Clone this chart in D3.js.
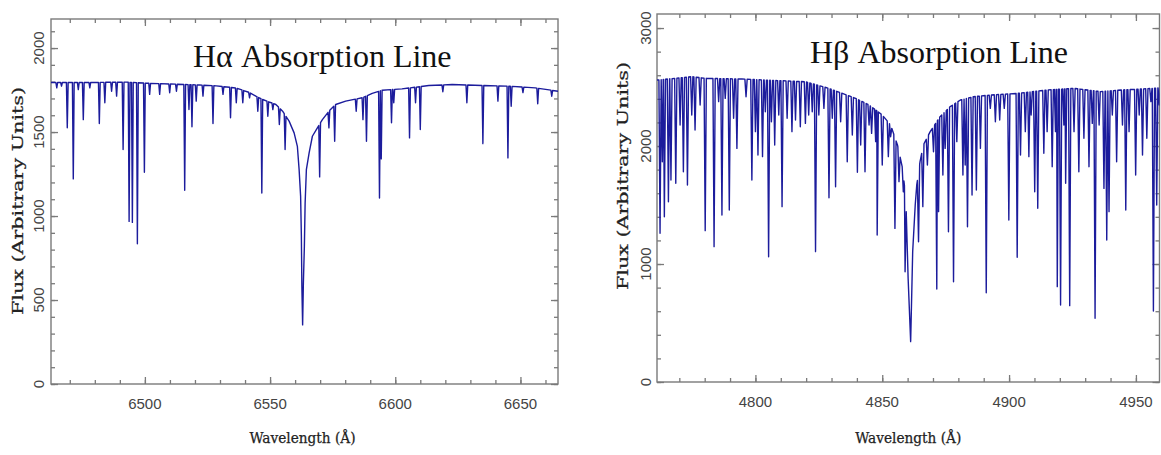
<!DOCTYPE html>
<html>
<head>
<meta charset="utf-8">
<script src="https://cdn.jsdelivr.net/npm/d3@7"></script>
<style>
  body { margin: 0; background: #fff; }
  .tick line { stroke: #7a7a7a; stroke-width: 1.3; }
  .frame { fill: none; stroke: #7a7a7a; stroke-width: 1.4; }
  .tlab { font-family: "Liberation Sans", sans-serif; font-size: 15px; fill: #444; }
  .atitle { font-family: "DejaVu Serif", serif; font-size: 14px; fill: #222; stroke: #222; stroke-width: 0.25; }
  .ptitle { font-family: "Liberation Serif", serif; font-size: 32px; fill: #111; }
  .spec { fill: none; stroke: #1c1c9c; stroke-width: 1.4; stroke-linejoin: round; }
</style>
</head>
<body>
<div id="chart"></div>
<script>
// H-alpha panel data (wavelength in A, flux)
const haTitle = "H\u03b1 Absorption Line";
const haXTicks = [6500, 6550, 6600, 6650];
const haYTicks = [0, 500, 1000, 1500, 2000];
const haContinuum = [
  [6462.5, 1795], [6475.4, 1795], [6492.6, 1797], [6501.9, 1790], [6512.6, 1785],
  [6521.9, 1780], [6528.5, 1775], [6536.5, 1762], [6541.8, 1735], [6544.3, 1714],
  [6547.0, 1694], [6552.3, 1664], [6555.0, 1624], [6557.6, 1565], [6559.6, 1495],
  [6560.9, 1415], [6561.6, 1276], [6562.2, 1117], [6562.5, 879], [6562.7, 580],
  [6563.0, 352], [6563.3, 600], [6563.7, 820], [6564.0, 1077], [6564.5, 1276],
  [6565.6, 1376], [6566.9, 1475], [6568.9, 1525], [6570.9, 1574], [6573.5, 1624],
  [6576.2, 1664], [6580.2, 1684], [6586.8, 1704], [6590.8, 1730], [6594.8, 1749],
  [6602.7, 1757], [6613.4, 1777], [6622.7, 1783], [6634.6, 1777], [6645.2, 1773],
  [6655.9, 1763], [6665.0, 1743]
];
const haLines = [
  [6464.8, 1763], [6466.7, 1773], [6469.0, 1525], [6471.4, 1221], [6473.4, 1753],
  [6475.4, 1574], [6478.0, 1763], [6481.8, 1551], [6484.0, 1674], [6486.7, 1743],
  [6488.7, 1714], [6491.3, 1396], [6493.7, 968], [6495.0, 962], [6497.0, 835],
  [6499.8, 1260], [6501.9, 1724], [6505.9, 1724], [6509.9, 1734], [6512.6, 1743],
  [6515.9, 1153], [6517.6, 1634], [6518.8, 1531], [6520.5, 1684], [6523.2, 1714],
  [6527.2, 1551], [6531.2, 1724], [6534.2, 1585], [6536.5, 1674], [6539.1, 1674],
  [6541.8, 1704], [6545.1, 1624], [6546.7, 1137], [6549.1, 1594], [6551.1, 1634],
  [6553.7, 1545], [6556.0, 1396],
  [6569.8, 1233], [6573.5, 1525], [6575.8, 1445], [6584.4, 1624], [6587.1, 1574],
  [6588.5, 1445], [6593.7, 1107], [6594.4, 1340], [6598.5, 1555], [6599.4, 1674],
  [6605.7, 1465], [6608.1, 1674], [6610.0, 1515], [6619.0, 1740], [6628.6, 1674],
  [6635.0, 1431], [6641.0, 1684], [6645.0, 1346], [6646.3, 1654], [6651.0, 1735],
  [6656.9, 1668], [6662.5, 1713]
];

// H-beta panel data
const hbTitle = "H\u03b2 Absorption Line";
const hbXTicks = [4800, 4850, 4900, 4950];
const hbYTicks = [0, 1000, 2000, 3000];
const hbContinuum = [
  [4761.2, 2559], [4774.9, 2588], [4780.2, 2574], [4794.7, 2568], [4803.9, 2559],
  [4819.7, 2545], [4828.9, 2489], [4839.5, 2404], [4844.8, 2348], [4850.0, 2263],
  [4853.3, 2178], [4856.0, 2009], [4858.0, 1811], [4859.3, 1557], [4860.2, 879],
  [4861.2, 342], [4862.0, 1105], [4863.0, 1500], [4863.6, 1670], [4864.9, 1867],
  [4866.2, 2009], [4868.9, 2122], [4872.8, 2249], [4876.8, 2334], [4880.8, 2390],
  [4886.0, 2418], [4892.6, 2432], [4903.2, 2446], [4915.0, 2475], [4925.6, 2489],
  [4936.1, 2461], [4944.0, 2475], [4952.0, 2483], [4960.5, 2494]
];
const hbLines = [
  [4762.4, 1260], [4763.3, 1867], [4764.1, 1401], [4765.7, 1528], [4766.7, 1712],
  [4768.6, 1684], [4770.3, 2178], [4771.6, 1782], [4773.2, 1670], [4774.9, 2263],
  [4776.2, 2136], [4778.2, 2348], [4780.2, 1283], [4783.7, 1147], [4785.5, 2376],
  [4786.8, 1415], [4788.1, 2404], [4789.7, 1458], [4791.4, 2235], [4792.7, 1980],
  [4796.3, 2418], [4798.6, 1712], [4800.0, 2122], [4801.0, 1924], [4802.8, 1910],
  [4803.9, 2291], [4805.2, 1062], [4806.3, 2206], [4807.6, 2009], [4809.2, 2263],
  [4810.5, 1486], [4812.5, 2235], [4814.4, 2122], [4815.8, 2220], [4817.7, 2164],
  [4819.7, 2192], [4821.0, 2263], [4822.4, 2291], [4823.7, 1105], [4825.0, 2263],
  [4827.0, 2319], [4829.0, 1562], [4830.3, 2235], [4831.6, 1655], [4833.6, 2206],
  [4836.2, 1867], [4838.2, 2093], [4840.2, 1777], [4841.5, 2009], [4843.2, 1782],
  [4844.8, 2178], [4845.8, 2107], [4847.4, 2037], [4848.0, 1246], [4850.0, 1839],
  [4852.4, 1910], [4853.3, 2079], [4855.0, 1302], [4856.6, 1698], [4858.3, 1613],
  [4859.0, 935],
  [4864.3, 1189], [4866.0, 1486], [4867.8, 1839], [4870.2, 1952], [4871.5, 788],
  [4872.2, 1444], [4873.9, 1754], [4874.8, 1980], [4876.1, 1274], [4878.1, 850],
  [4879.4, 2037], [4881.8, 1754], [4882.7, 1839], [4883.6, 1316], [4885.4, 1585],
  [4887.1, 1627], [4888.7, 1980], [4891.0, 757], [4892.6, 2319], [4894.6, 2206],
  [4896.3, 2220], [4898.1, 2319], [4899.9, 1373], [4903.2, 1057], [4904.5, 1924],
  [4906.4, 2122], [4907.8, 1910], [4908.7, 2263], [4910.1, 1613], [4911.3, 1472],
  [4913.7, 1938], [4915.0, 2122], [4917.0, 1825], [4918.3, 2122], [4919.0, 808],
  [4920.3, 653], [4921.6, 2178], [4922.3, 1684], [4923.9, 647], [4925.6, 2122],
  [4927.5, 1782], [4929.5, 2065], [4931.5, 1825], [4932.8, 2192], [4933.9, 540],
  [4935.5, 2178], [4937.4, 1641], [4938.5, 1203], [4939.4, 1444], [4940.7, 2263],
  [4942.4, 1867], [4944.7, 2178], [4946.0, 1458], [4947.3, 2122], [4949.9, 1754],
  [4951.3, 2263], [4952.6, 1924], [4954.3, 2065], [4955.9, 2376], [4956.9, 602],
  [4958.2, 1500], [4959.2, 2348]
];

const W = 1161, H = 455;
const svg = d3.select("#chart").append("svg")
    .attr("width", W)
    .attr("height", H);

// merge the continuum and the narrow lines into one sorted trace
function buildTrace(cont, lines, hw) {
    var c = d3.scaleLinear()
        .domain(cont.map(d => d[0]))
        .range(cont.map(d => d[1]))
        .clamp(true);
    var pts = cont.filter(p => !lines.some(l => Math.abs(l[0] - p[0]) < hw));
    lines.forEach(l => {
        pts.push([l[0] - hw, c(l[0] - hw)]);
        pts.push([l[0], Math.min(l[1], c(l[0]))]);
        pts.push([l[0] + hw, c(l[0] + hw)]);
    });
    pts.sort((a, b) => a[0] - b[0]);
    return pts;
}

function drawPanel(p, idx) {
    var x = d3.scaleLinear().domain(p.xDomain).range([p.left, p.right]);
    var y = d3.scaleLinear().domain(p.yDomain).range([p.bottom, p.top]);

    var g = svg.append("g");

    g.append("clipPath").attr("id", "clip" + idx)
        .append("rect")
        .attr("x", p.left).attr("y", p.top)
        .attr("width", p.right - p.left).attr("height", p.bottom - p.top);

    var xMinor = d3.range(Math.ceil(p.xDomain[0] / 10) * 10, p.xDomain[1], 10);
    var yMinor = d3.range(0, p.yDomain[1], p.yMinorStep);

    // inward ticks on all four sides
    function ticks(axis, tr, vals, size) {
        var a = g.append("g").attr("transform", tr)
            .call(axis.tickValues(vals).tickSize(-size).tickFormat(""));
        a.select(".domain").remove();
    }
    ticks(d3.axisBottom(x), "translate(0," + p.bottom + ")", xMinor, 4);
    ticks(d3.axisBottom(x), "translate(0," + p.bottom + ")", p.xTicks, 7);
    ticks(d3.axisTop(x), "translate(0," + p.top + ")", xMinor, 4);
    ticks(d3.axisTop(x), "translate(0," + p.top + ")", p.xTicks, 7);
    ticks(d3.axisLeft(y), "translate(" + p.left + ",0)", yMinor, 4);
    ticks(d3.axisLeft(y), "translate(" + p.left + ",0)", p.yTicks, 7);
    ticks(d3.axisRight(y), "translate(" + p.right + ",0)", yMinor, 4);
    ticks(d3.axisRight(y), "translate(" + p.right + ",0)", p.yTicks, 7);

    g.append("rect").attr("class", "frame")
        .attr("x", p.left).attr("y", p.top)
        .attr("width", p.right - p.left).attr("height", p.bottom - p.top);

    // spectrum
    var line = d3.line().x(d => x(d[0])).y(d => y(d[1]));
    g.append("path").attr("class", "spec")
        .attr("clip-path", "url(#clip" + idx + ")")
        .attr("d", line(buildTrace(p.cont, p.lines, p.hw)));

    // tick labels
    g.selectAll(".xl").data(p.xTicks).enter().append("text")
        .attr("class", "tlab")
        .attr("x", d => x(d)).attr("y", p.bottom + 25)
        .attr("text-anchor", "middle")
        .text(d => d);

    g.selectAll(".yl").data(p.yTicks).enter().append("text")
        .attr("class", "tlab")
        .attr("transform", d => "translate(" + p.yLabX + "," + y(d) + ") rotate(-90)")
        .attr("text-anchor", "middle")
        .text(d => d);

    // axis titles
    g.append("text").attr("class", "atitle")
        .attr("x", (p.left + p.right) / 2 + p.xTitleShift).attr("y", 443)
        .attr("text-anchor", "middle")
        .attr("textLength", 106).attr("lengthAdjust", "spacingAndGlyphs")
        .text("Wavelength (\u00c5)");

    g.append("text").attr("class", "atitle")
        .attr("transform", "translate(" + p.yTitleX + "," + p.yTitleY + ") rotate(-90)")
        .attr("text-anchor", "middle")
        .attr("textLength", 228).attr("lengthAdjust", "spacingAndGlyphs")
        .text("Flux (Arbitrary Units)");

    g.append("text").attr("class", "ptitle")
        .attr("x", p.titleX).attr("y", p.titleY)
        .text(p.title);
}

drawPanel({
    left: 51, right: 558, top: 19, bottom: 384,
    xDomain: [6462.5, 6665], yDomain: [0, 2173],
    xTicks: haXTicks, yTicks: haYTicks, yMinorStep: 100,
    cont: haContinuum, lines: haLines, hw: 0.35,
    yLabX: 44, yTitleX: 23, yTitleY: 201, xTitleShift: -2,
    title: haTitle, titleX: 193, titleY: 67
}, 0);

drawPanel({
    left: 657, right: 1159.5, top: 14, bottom: 382,
    xDomain: [4761.2, 4959.3], yDomain: [0, 3119],
    xTicks: hbXTicks, yTicks: hbYTicks, yMinorStep: 200,
    cont: hbContinuum, lines: hbLines, hw: 0.45,
    yLabX: 651, yTitleX: 628, yTitleY: 176, xTitleShift: 0,
    title: hbTitle, titleX: 810, titleY: 63
}, 1);
</script>
</body>
</html>
